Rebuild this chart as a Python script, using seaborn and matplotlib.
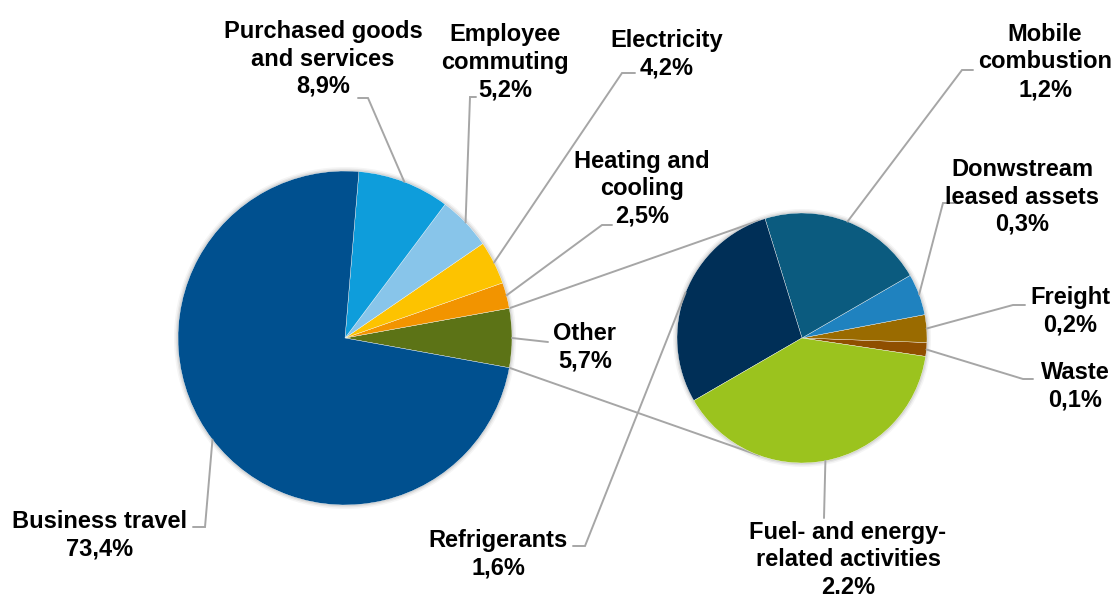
import numpy as np
import matplotlib
matplotlib.use("Agg")
import matplotlib.pyplot as plt
from matplotlib.patches import Circle
import seaborn as sns

# Emission breakdown (%) for the main pie, counter-clockwise from the "Other" slice
main_labels = ["Other", "Heating and\ncooling", "Electricity", "Employee\ncommuting",
               "Purchased goods\nand services", "Business travel"]
main_values = [5.7, 2.5, 4.2, 5.2, 8.9, 73.4]
main_pct = ["5,7%", "2,5%", "4,2%", "5,2%", "8,9%", "73,4%"]

# Breakdown of "Other" for the secondary pie
sub_labels = ["Waste", "Freight", "Donwstream\nleased assets", "Mobile\ncombustion",
              "Refrigerants", "Fuel- and energy-\nrelated activities"]
sub_values = [0.1, 0.2, 0.3, 1.2, 1.6, 2.2]
sub_pct = ["0,1%", "0,2%", "0,3%", "1,2%", "1,6%", "2.2%"]

main_colors = sns.color_palette(["#5C7316", "#F29400", "#FDC300", "#88C5EA", "#0E9DDB", "#00508F"])
sub_colors = sns.color_palette(["#8F4F00", "#9A6B00", "#1F82BF", "#0B5B7F", "#002F57", "#9BC31E"])

sns.set_theme(style="white")
plt.rcParams["font.family"] = ["Liberation Sans", "DejaVu Sans"]

W, H = 1117, 597
fig = plt.figure(figsize=(W / 100, H / 100), dpi=100)
ax = fig.add_axes([0, 0, 1, 1])


def P(x, y):
    """Layout position given from the top-left corner."""
    return np.array([x, H - y], dtype=float)


main_c, main_r = P(345, 338), 167
sub_c, sub_r = P(802, 338), 125
line_col = "#A6A6A6"

main_start = -main_values[0] / sum(main_values) * 360 / 2
sub_start = -8.5


def angles(values, start):
    v = np.asarray(values, dtype=float)
    edges = start + np.concatenate([[0], np.cumsum(v)]) / v.sum() * 360
    return edges[:-1], edges[1:]


def on_circle(c, r, deg):
    a = np.deg2rad(deg)
    return c + r * np.array([np.cos(a), np.sin(a)])


# soft shadow under each pie
for c, r in [(main_c, main_r), (sub_c, sub_r)]:
    for k, a in [(4, 0.04), (2.5, 0.06), (1.2, 0.08)]:
        ax.add_patch(Circle(c, r + k, color="black", alpha=a, lw=0, zorder=1))

ax.pie(main_values, colors=main_colors, startangle=main_start, counterclock=True,
       center=tuple(main_c), radius=main_r, frame=True,
       wedgeprops=dict(edgecolor="white", linewidth=0.25, zorder=2))
ax.pie(sub_values, colors=sub_colors, startangle=sub_start, counterclock=True,
       center=tuple(sub_c), radius=sub_r, frame=True,
       wedgeprops=dict(edgecolor="white", linewidth=0.25, zorder=2))
ax.set_xlim(0, W)
ax.set_ylim(0, H)
ax.set_aspect("equal")
ax.axis("off")

# connector lines from the "Other" slice to the secondary pie
m0, m1 = angles(main_values, main_start)
top = on_circle(main_c, main_r, m1[0])
bot = on_circle(main_c, main_r, m0[0])
for p, deg in [(top, 110), (bot, 250)]:
    q = on_circle(sub_c, sub_r, deg)
    ax.plot([p[0], q[0]], [p[1], q[1]], color=line_col, lw=1.4, zorder=1.5)

# label text centre and leader path (from the slice edge outwards)
main_layout = [
    ((585, 347), [(548, 342)]),
    ((642, 189), [(602, 225), (612, 225)]),
    ((667, 54), [(622, 73), (635, 73)]),
    ((505, 62), [(470, 97), (476, 97)]),
    ((323, 59), [(368, 98), (358, 98)]),
    ((100, 535), [(205, 527), (193, 527)]),
]
sub_layout = [
    ((1075, 386), [(1023, 379), (1033, 379)]),
    ((1070, 311), [(1013, 305), (1025, 305)]),
    ((1022, 197), [(943, 203), (955, 203)]),
    ((1045, 62), [(962, 70), (973, 70)]),
    ((498, 554), [(585, 546), (573, 546)]),
    ((848, 560), [(824, 518)]),
]

txt_kw = dict(ha="center", va="center", fontsize=17, fontweight="bold",
              color="black", linespacing=1.25, zorder=5)


def annotate(values, start, c, r, labels, pcts, layout):
    a0, a1 = angles(values, start)
    for lab, pct, lo, s, e in zip(labels, pcts, layout, a0, a1):
        (tx, ty), path = lo
        pts = [on_circle(c, r, (s + e) / 2)] + [P(*q) for q in path]
        pts = np.array(pts)
        ax.plot(pts[:, 0], pts[:, 1], color=line_col, lw=1.4, zorder=3,
                solid_joinstyle="miter")
        ax.text(*P(tx, ty), f"{lab}\n{pct}", **txt_kw)


annotate(main_values, main_start, main_c, main_r, main_labels, main_pct, main_layout)
annotate(sub_values, sub_start, sub_c, sub_r, sub_labels, sub_pct, sub_layout)

fig.savefig("out.png", dpi=100, facecolor="white")
